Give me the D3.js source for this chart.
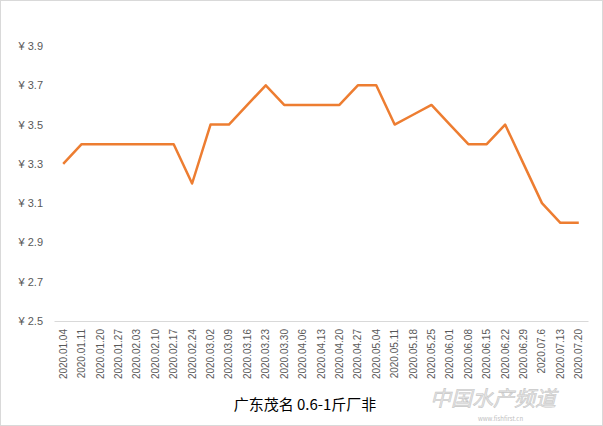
<!DOCTYPE html>
<html>
<head>
<meta charset="utf-8">
<script src="https://cdn.jsdelivr.net/npm/d3@7/dist/d3.min.js"></script>
<style>
body { margin: 0; background: #fff; }
svg { display: block; font-family: "Microsoft YaHei", "Noto Sans CJK SC", "DejaVu Sans", sans-serif; }
</style>
</head>
<body>
<svg></svg>
<script>
let width = 603
let height = 426

let dates = ['2020.01.04', '2020.01.11', '2020.01.20', '2020.01.27', '2020.02.03', '2020.02.10',
    '2020.02.17', '2020.02.24', '2020.03.02', '2020.03.09', '2020.03.16', '2020.03.23',
    '2020.03.30', '2020.04.06', '2020.04.13', '2020.04.20', '2020.04.27', '2020.05.04',
    '2020.05.11', '2020.05.18', '2020.05.25', '2020.06.01', '2020.06.08', '2020.06.15',
    '2020.06.22', '2020.06.29', '2020.07.6', '2020.07.13', '2020.07.20']
let prices = [3.3, 3.4, 3.4, 3.4, 3.4, 3.4, 3.4, 3.2, 3.5, 3.5, 3.6, 3.7, 3.6, 3.6, 3.6, 3.6,
    3.7, 3.7, 3.5, 3.55, 3.6, 3.5, 3.4, 3.4, 3.5, 3.3, 3.1, 3.0, 3.0]
let yTicks = [2.5, 2.7, 2.9, 3.1, 3.3, 3.5, 3.7, 3.9]
let title = '广东茂名 0.6-1斤厂非'

let margin = { top: 46, right: 15, bottom: 105, left: 54 }

let svg = d3.select('svg')
    .attr('width', width)
    .attr('height', height)

// chart frame
svg.append('rect')
    .attr('x', 0.5).attr('y', 0.5)
    .attr('width', width - 1).attr('height', height - 1)
    .attr('fill', '#fff')
    .attr('stroke', '#d9d9d9')

let x = d3.scaleBand()
    .domain(dates)
    .range([margin.left, width - margin.right])
let y = d3.scaleLinear()
    .domain([2.5, 3.9])
    .range([height - margin.bottom, margin.top])

// y labels
svg.append('g')
    .attr('transform', `translate(${margin.left - 8},0)`)
    .call(d3.axisLeft(y).tickValues(yTicks).tickSize(0).tickFormat(d => '¥ ' + d.toFixed(1)))
    .call(g => g.select('.domain').remove())
    .call(g => g.selectAll('text')
        .attr('fill', '#595959')
        .style('font-size', '11px')
        .style('font-family', '"Liberation Sans", Arial, sans-serif'))

// x axis
svg.append('g')
    .attr('transform', `translate(0,${y(2.5)})`)
    .call(d3.axisBottom(x).tickSize(0).tickPadding(0))
    .call(g => g.select('.domain').attr('stroke', '#d9d9d9'))
    .call(g => g.selectAll('text')
        .attr('fill', '#595959')
        .style('font-size', '10px')
        .style('font-family', '"Liberation Sans", Arial, sans-serif')
        .attr('text-anchor', 'end')
        .attr('dx', 0)
        .attr('dy', '0.35em')
        .attr('transform', 'translate(0,8) rotate(-90)'))

let line = d3.line()
    .x((d, i) => x(dates[i]) + x.bandwidth() / 2)
    .y(d => y(d))

svg.append('path')
    .datum(prices)
    .attr('fill', 'none')
    .attr('stroke', '#ED7D31')
    .attr('stroke-width', 2.5)
    .attr('stroke-linejoin', 'round')
    .attr('d', line)

svg.append('text')
    .attr('x', 305)
    .attr('y', 410)
    .attr('text-anchor', 'middle')
    .attr('fill', '#000')
    .style('font-size', '15px')
    .text(title)

// watermark
svg.append('text')
    .attr('x', 430)
    .attr('y', 406)
    .attr('fill', '#e6e6e6')
    .attr('stroke', '#c8c8c8')
    .attr('stroke-width', 0.6)
    .style('font-size', '21px')
    .style('font-style', 'italic')
    .text('中国水产频道')
svg.append('text')
    .attr('x', 478)
    .attr('y', 421)
    .attr('fill', '#c0c0c0')
    .style('font-size', '6px')
    .text('www.fishfirst.cn')
</script>
</body>
</html>
